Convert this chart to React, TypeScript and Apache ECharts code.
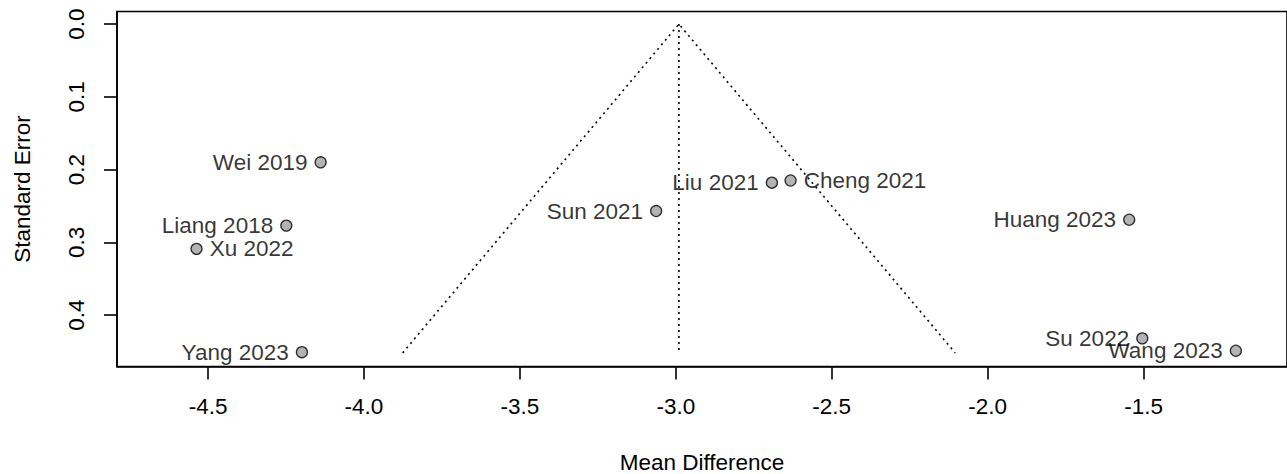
import React, { useEffect, useRef } from "react";
import * as echarts from "echarts";

const studies = ["Wei 2019", "Liang 2018", "Xu 2022", "Yang 2023", "Sun 2021", "Liu 2021", "Cheng 2021", "Huang 2023", "Su 2022", "Wang 2023"];
const meanDiff = [-4.139, -4.249, -4.537, -4.199, -3.063, -2.692, -2.632, -1.546, -1.504, -1.204];
const stdErr = [0.190, 0.277, 0.309, 0.451, 0.257, 0.218, 0.215, 0.269, 0.432, 0.449];
const labelSide = ["left", "left", "right", "left", "left", "left", "right", "left", "left", "left"];

const estimate = -2.99;
const seMax = 0.452;
const zCrit = 1.96;

const xTicks = [-4.5, -4.0, -3.5, -3.0, -2.5, -2.0, -1.5];
const yTicks = [0.0, 0.1, 0.2, 0.3, 0.4];

const xMin = -4.792;
const xMax = -1.04;
const yMin = -0.0173;
const yMax = 0.4707;

const FONT = "'Liberation Sans', Arial, Helvetica, sans-serif";
const TICK_LEN = 13;
const TICK_W = 1.6;

export default function App() {
  const ref = useRef<HTMLDivElement>(null);
  useEffect(() => {
    if (!ref.current) return;
    const chart = echarts.init(ref.current, null, { renderer: "svg" });
    const lb = estimate - zCrit * seMax;
    const ub = estimate + zCrit * seMax;
    const dotted = { color: "#000", width: 1.6, type: [2, 4] as any };
    chart.setOption({
      animation: false,
      backgroundColor: "#fff",
      grid: {
        left: 117,
        right: 0,
        top: 11.5,
        bottom: 107.5,
        outerBoundsMode: "none",
        containLabel: false,
        show: true,
        borderColor: "#000",
        borderWidth: 1.6,
        backgroundColor: "transparent",
      },
      xAxis: {
        type: "value",
        position: "bottom",
        min: xMin,
        max: xMax,
        name: "Mean Difference",
        nameLocation: "middle",
        nameGap: 84,
        nameTextStyle: { fontFamily: FONT, fontSize: 22.5, color: "#000" },
        axisLine: { show: true, onZero: false, lineStyle: { color: "#000", width: 1.6 } },
        splitLine: { show: false },
        axisTick: { show: true, inside: true, length: -TICK_LEN, lineStyle: { color: "#000", width: TICK_W }, customValues: xTicks },
        axisLabel: {
          customValues: xTicks,
          margin: 28,
          fontFamily: FONT,
          fontSize: 22.5,
          color: "#000",
          formatter: (v: number) => v.toFixed(1),
        },
      },
      yAxis: {
        type: "value",
        position: "left",
        inverse: true,
        min: yMin,
        max: yMax,
        name: "Standard Error",
        nameLocation: "middle",
        nameGap: 83,
        nameTextStyle: { fontFamily: FONT, fontSize: 22.5, color: "#000" },
        axisLine: { show: true, onZero: false, lineStyle: { color: "#000", width: 1.6 } },
        splitLine: { show: false },
        axisTick: { show: true, inside: true, length: -TICK_LEN, lineStyle: { color: "#000", width: TICK_W }, customValues: yTicks },
        axisLabel: {
          customValues: yTicks,
          rotate: 90,
          margin: 29,
          fontFamily: FONT,
          fontSize: 22.5,
          color: "#000",
          formatter: (v: number) => v.toFixed(1),
        },
      },
      series: [
        {
          type: "line",
          data: [[lb, seMax], [estimate, 0], [ub, seMax]],
          symbol: "none",
          lineStyle: dotted,
          silent: true,
          z: 1,
        },
        {
          type: "line",
          data: [[estimate, 0], [estimate, seMax]],
          symbol: "none",
          lineStyle: dotted,
          silent: true,
          z: 1,
        },
        {
          type: "scatter",
          symbol: "circle",
          symbolSize: 11,
          z: 3,
          itemStyle: { color: "#a0a0a0", borderColor: "#000", borderWidth: 1.3 },
          data: studies.map((s, i) => ({
            name: s,
            value: [meanDiff[i], stdErr[i]],
            label: {
              show: true,
              position: labelSide[i],
              distance: 7,
              formatter: s,
              fontFamily: FONT,
              fontSize: 22.5,
              color: "#000",
            },
          })),
        },
      ],
    });
    return () => chart.dispose();
  }, []);
  return <div ref={ref} style={{ position: "absolute", left: 0, top: 0, width: 1287, height: 474 }} />;
}
